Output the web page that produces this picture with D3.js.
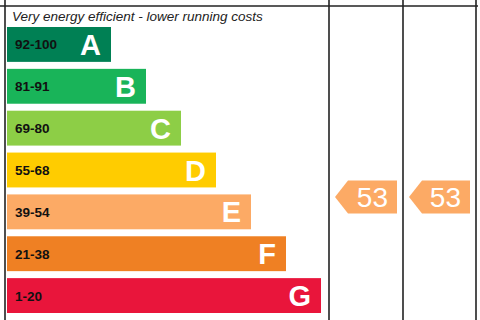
<!DOCTYPE html>
<html><head><meta charset="utf-8">
<script src="https://cdn.jsdelivr.net/npm/d3@7"></script>
<style>html,body{margin:0;padding:0;background:#fff}svg{display:block}</style>
</head><body>
<script>
const ratings = ["A","B","C","D","E","F","G"];
const ranges = ["92-100","81-91","69-80","55-68","39-54","21-38","1-20"];
const colors = ["#008054","#19b459","#8dce46","#ffcc00","#fcaa65","#ef8023","#e9153b"];
const currentScore = 53, currentRating = "E";
const potentialScore = 53, potentialRating = "E";
const headerText = "Very energy efficient - lower running costs";

const W = 480, H = 320;
const svg = d3.select("body").append("svg").attr("width", W).attr("height", H);

const y = d3.scaleBand().domain(ratings).range([27, 313]).paddingInner(1/6).paddingOuter(0);
const xEnd = d3.scaleLinear().domain([0, 7]).range([76, 321]);
const x0 = 7;
const cols = d3.scaleOrdinal().domain(["left","current","potential","end"]).range([5, 329, 403, 476]);

// bars
const g = svg.append("g");
ratings.forEach((r, i) => {
  const yy = y(r), bh = y.bandwidth(), xe = xEnd(i + 1);
  g.append("rect").attr("x", x0).attr("y", yy).attr("width", xe - x0).attr("height", bh).attr("fill", colors[i]);
  g.append("text").attr("x", x0 + 8).attr("y", yy + bh / 2 + 5)
    .attr("font-family", "Liberation Sans, Arial, sans-serif").attr("font-weight", "bold")
    .attr("font-size", 13.5).attr("fill", "#111").text(ranges[i]);
  g.append("text").attr("x", xe - 10).attr("y", yy + bh / 2 + 10.5).attr("text-anchor", "end")
    .attr("font-family", "Liberation Sans, Arial, sans-serif").attr("font-weight", "bold")
    .attr("font-size", 29).attr("fill", "#fff").text(r);
});

svg.append("text").attr("x", 12).attr("y", 21)
  .attr("font-family", "Liberation Sans, Arial, sans-serif").attr("font-style", "italic")
  .attr("font-size", 13.5).attr("fill", "#222").text(headerText);

// arrows
function arrow(colL, colR, rating, score) {
  const xl = cols(colL) + 6, xr = cols(colR) - 6;
  const cy = y(rating) + 2.5, hh = 16.5, tip = 13;
  const idx = ratings.indexOf(rating);
  svg.append("path").attr("d", `M${xl},${cy} L${xl + tip},${cy - hh} L${xr},${cy - hh} L${xr},${cy + hh} L${xl + tip},${cy + hh} Z`)
    .attr("fill", colors[idx]);
  svg.append("text").attr("x", xr - 9).attr("y", cy + 10).attr("text-anchor", "end")
    .attr("font-family", "Liberation Sans, Arial, sans-serif").attr("font-size", 28)
    .attr("fill", "#fff").text(score);
}
arrow("current", "potential", currentRating, currentScore);
arrow("potential", "end", potentialRating, potentialScore);

// grid lines
const lc = "#222", lw = 1.6;
svg.append("line").attr("x1", 0).attr("x2", 478).attr("y1", 6).attr("y2", 6).attr("stroke", lc).attr("stroke-width", lw);
["left","current","potential","end"].forEach(c => {
  svg.append("line").attr("x1", cols(c)).attr("x2", cols(c)).attr("y1", 0).attr("y2", H).attr("stroke", lc).attr("stroke-width", lw);
});
</script>
</body></html>
